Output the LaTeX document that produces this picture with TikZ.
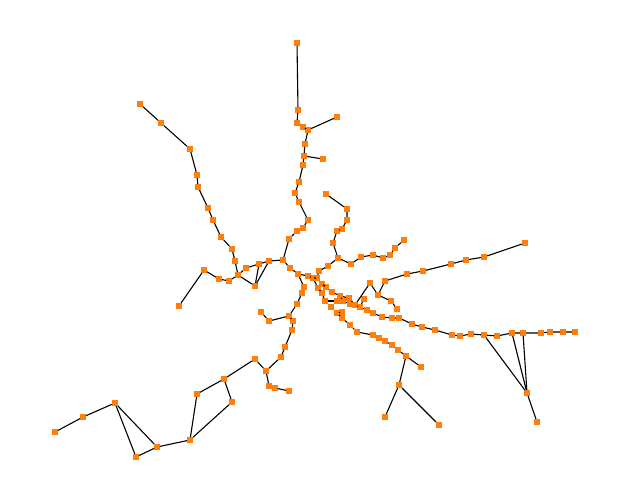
\documentclass[tikz,border=0pt]{standalone}
\definecolor{nodeorange}{HTML}{FF7F0E}
\tikzset{
  vx/.style={rectangle,fill=nodeorange,draw=none,minimum size=5.6pt,inner sep=0pt},
  ed/.style={draw=black,line width=1.1pt}
}
\newcommand\vtx[3]{\node[vx] (#1) at (#2,#3) {};}
\begin{document}
\begin{tikzpicture}[x=1pt,y=-1pt]
\useasboundingbox (0,0) rectangle (630,500);
% top branch
\vtx{t1}{297}{43}\vtx{t2}{298}{110}\vtx{t3}{297}{123}\vtx{t4}{303}{127}\vtx{t5}{308}{130}
\vtx{t6}{337}{117}\vtx{t7}{305}{144}\vtx{t8}{304}{156}\vtx{t9}{323}{159}\vtx{t10}{303}{165}
\vtx{t11}{299}{182}\vtx{t12}{295}{193}\vtx{t13}{299}{202}\vtx{t14}{308}{220}\vtx{t15}{303}{228}
\vtx{t16}{297}{231}\vtx{t17}{289}{239}\vtx{t18}{283}{260}
% upper left
\vtx{l1}{140}{104}\vtx{l2}{161}{123}\vtx{l3}{190}{149}\vtx{l4}{197}{175}\vtx{l5}{198}{187}
\vtx{l6}{208}{208}\vtx{l7}{213}{220}\vtx{l8}{221}{237}\vtx{l9}{232}{249}\vtx{l10}{235}{261}
\vtx{l11}{238}{275}\vtx{l12}{246}{268}\vtx{l13}{259}{264}\vtx{l14}{269}{261}\vtx{l15}{255}{286}
\vtx{l16}{229}{281}\vtx{l17}{219}{279}\vtx{l18}{204}{270}\vtx{l19}{179}{306}
% centre
\vtx{c1}{290}{268}\vtx{h1}{298}{274}\vtx{h2}{308}{276}\vtx{h3}{313}{278}\vtx{h4}{317}{278}
\vtx{c6}{319}{271}\vtx{c7}{328}{266}\vtx{c8}{338}{258}\vtx{c9}{351}{264}\vtx{c10}{361}{257}
\vtx{c11}{373}{255}\vtx{c12}{383}{258}\vtx{c13}{390}{255}\vtx{c14}{395}{248}\vtx{c15}{404}{240}
\vtx{c16}{333}{243}\vtx{c17}{337}{231}\vtx{c18}{342}{229}\vtx{c19}{347}{220}\vtx{c20}{347}{209}
\vtx{c21}{326}{194}
\vtx{d1}{304}{287}\vtx{d2}{302}{293}\vtx{d3}{297}{304}
\vtx{e1}{289}{316}\vtx{e2}{269}{321}\vtx{e3}{261}{312}\vtx{e4}{293}{321}\vtx{e5}{292}{330}
\vtx{e6}{285}{347}\vtx{e7}{281}{357}\vtx{e8}{266}{371}\vtx{e9}{255}{359}\vtx{e10}{269}{386}
\vtx{e11}{275}{388}\vtx{e12}{289}{391}
% bottom left
\vtx{b1}{224}{379}\vtx{b2}{197}{394}\vtx{b3}{232}{402}\vtx{b4}{190}{440}\vtx{b5}{157}{447}
\vtx{b6}{136}{457}\vtx{b7}{115}{403}\vtx{b8}{83}{417}\vtx{b9}{55}{432}
% chain A
\vtx{a1}{322}{284}\vtx{a2}{326}{287}\vtx{a3}{332}{292}\vtx{a4}{340}{296}\vtx{a5}{349}{298}
\vtx{a6}{355}{305}\vtx{a7}{360}{307}\vtx{a8}{367}{310}\vtx{a9}{373}{313}\vtx{a10}{382}{317}
\vtx{a11}{392}{318}\vtx{a12}{399}{318}\vtx{a13}{412}{324}\vtx{a14}{422}{327}\vtx{a15}{435}{330}
\vtx{a16}{452}{335}\vtx{a17}{460}{336}\vtx{a18}{471}{334}\vtx{a19}{484}{335}\vtx{a20}{497}{336}
\vtx{a21}{512}{333}\vtx{a22}{523}{333}\vtx{a23}{541}{333}\vtx{a24}{550}{332}\vtx{a25}{563}{332}
\vtx{a26}{575}{332}
\vtx{k1}{527}{393}\vtx{k2}{537}{422}
\vtx{s1}{343}{301}\vtx{s2}{350}{304}\vtx{s0}{337}{301}
% V and upper right
\vtx{v1}{364}{299}\vtx{v2}{370}{283}\vtx{v3}{378}{295}\vtx{v4}{385}{281}
\vtx{v5}{391}{301}\vtx{v6}{397}{309}
\vtx{r3}{407}{274}\vtx{r4}{423}{271}\vtx{r5}{451}{264}\vtx{r6}{466}{260}\vtx{r7}{484}{257}
\vtx{r8}{525}{243}
% chain B
\vtx{p1}{318}{288}\vtx{p2}{322}{293}\vtx{p3}{325}{301}\vtx{p4}{331}{307}\vtx{p5}{337}{313}
\vtx{p5b}{342}{312}\vtx{p6}{342}{318}\vtx{p7}{350}{325}\vtx{p8}{357}{332}\vtx{p9}{373}{335}
\vtx{p10}{379}{338}\vtx{p11}{385}{341}\vtx{p12}{392}{345}\vtx{p13}{398}{350}\vtx{p14}{406}{356}
\vtx{q1}{421}{367}\vtx{q2}{399}{385}\vtx{q3}{385}{417}\vtx{q4}{439}{425}
% edges
\draw[ed] (t1)--(t2)--(t3)--(t4)--(t5)--(t6);
\draw[ed] (t5)--(t7)--(t8)--(t9);
\draw[ed] (t8)--(t10)--(t11)--(t12)--(t13)--(t14)--(t15)--(t16)--(t17)--(t18);
\draw[ed] (l1)--(l2)--(l3)--(l4)--(l5)--(l6)--(l7)--(l8)--(l9)--(l10)--(l11);
\draw[ed] (l11)--(l12)--(l13)--(l14)--(t18);
\draw[ed] (l11)--(l15)--(l13);
\draw[ed] (l15)--(l14);
\draw[ed] (l11)--(l16)--(l17)--(l18)--(l19);
\draw[ed] (t18)--(c1)--(h1)--(h2)--(h3)--(h4)--(c6)--(c7)--(c8);
\draw[ed] (c8)--(c9)--(c10)--(c11)--(c12)--(c13)--(c14)--(c15);
\draw[ed] (c8)--(c16)--(c17)--(c18)--(c19)--(c20)--(c21);
\draw[ed] (h1)--(d1)--(d2)--(d3)--(e1)--(e2)--(e3);
\draw[ed] (e1)--(e4)--(e5)--(e6)--(e7)--(e8)--(e9);
\draw[ed] (e8)--(e10)--(e11)--(e12);
\draw[ed] (e9)--(b1)--(b2)--(b4);
\draw[ed] (b1)--(b3)--(b4)--(b5)--(b7)--(b8)--(b9);
\draw[ed] (b5)--(b6)--(b7);
\draw[ed] (h4)--(a1)--(a2)--(a3)--(a4)--(a5)--(a6)--(a7)--(a8)--(a9)--(a10)--(a11)--(a12)--(a13)--(a14)--(a15)--(a16)--(a17)--(a18)--(a19)--(a20)--(a21)--(a22)--(a23)--(a24)--(a25)--(a26);
\draw[ed] (a19)--(k1);
\draw[ed] (a21)--(k1);
\draw[ed] (a22)--(k1)--(k2);
\draw[ed] (a4)--(s1)--(s2);
\draw[ed] (p3)--(s0);
\draw[ed] (a6)--(v2)--(v3)--(v4)--(r3)--(r4)--(r5)--(r6)--(r7)--(r8);
\draw[ed] (a7)--(v1);
\draw[ed] (v3)--(v5)--(v6);
\draw[ed] (h3)--(p1)--(p2)--(p3)--(p4)--(p5)--(p6)--(p7)--(p8)--(p9)--(p10)--(p11)--(p12)--(p13)--(p14)--(q1);
\draw[ed] (p5)--(p5b);
\draw[ed] (p14)--(q2)--(q3);
\draw[ed] (q2)--(q4);
\end{tikzpicture}
\end{document}
